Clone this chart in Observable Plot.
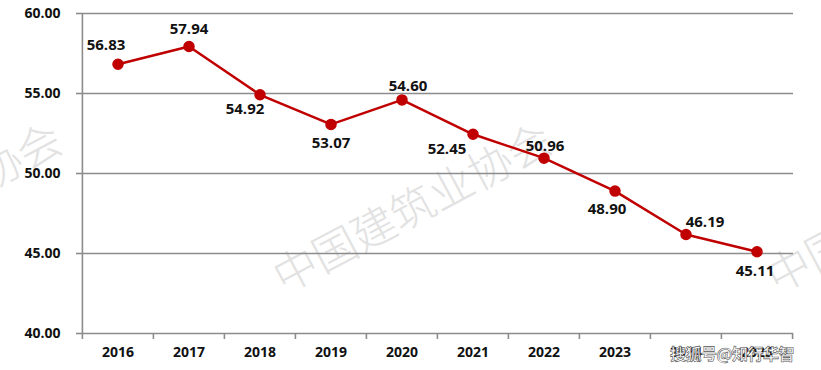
<!DOCTYPE html>
<html><head><meta charset="utf-8">
<script src="https://cdn.jsdelivr.net/npm/d3@7"></script>
<script src="https://cdn.jsdelivr.net/npm/@observablehq/plot@0.6"></script>
<style>
body{margin:0;background:#fff;font-family:"Open Sans",sans-serif}
#chart{position:relative;width:821px;height:370px;overflow:hidden}
#chart svg{position:absolute;left:0;top:0}
.wm2{position:absolute;left:670px;top:341px;font-family:"Noto Sans CJK SC",sans-serif;font-size:16px;font-weight:700;color:#fff;-webkit-text-stroke:0.6px #555;white-space:nowrap;letter-spacing:-0.5px}
</style>
</head><body><div id="chart"></div>
<script>
const years = ["2016","2017","2018","2019","2020","2021","2022","2023","2024","2025"];
const values = [56.83,57.94,54.92,53.07,54.60,52.45,50.96,48.90,46.19,45.11];
const yTicks = [40,45,50,55,60];
// label placement offsets (px) — styling only
const labelDx = [-12,0,-15,0,6,-26,1,-8,19,-2];
const labelDy = [-19,-17,14,19,-14,15,-12,18,-12,19];

const data = years.map((year,i)=>({year, value: values[i]}));
const W = 821, H = 370, ML = 81, MR = 28, MT = 13, MB = 37;
const bw = (W - ML - MR) / years.length;
const gridC = "#8c8c8c";
const red = "#C00000";

const labelMarks = data.map((d,i)=>Plot.text([d], {
  x:"year", y:"value", text: d=>d.value.toFixed(2),
  dx: labelDx[i], dy: labelDy[i],
  fontSize: 15, fontWeight: 700, fill: "#111"
}));

const plot = Plot.plot({
  width: W, height: H, marginLeft: ML, marginRight: MR, marginTop: MT, marginBottom: MB,
  style: {fontFamily: '"Open Sans", sans-serif', fontSize: "14px", fontWeight: 700, color: "#111", background: "transparent", overflow: "visible"},
  x: {type: "band", domain: years, padding: 0, label: null},
  y: {domain: [40, 60], label: null},
  marks: [
    Plot.ruleY(yTicks, {y: d=>d, stroke: gridC, strokeWidth: 1.6}),
    Plot.ruleX([years[0]], {x: d=>d, dx: -bw/2, y1: 40, y2: 60, stroke: gridC, strokeWidth: 1.6}),
    Plot.ruleX(years, {x: d=>d, dx: -bw/2, y1: 40, y2: 40 - 6/16, stroke: gridC, strokeWidth: 1.6}),
    Plot.ruleX([years[years.length-1]], {x: d=>d, dx: bw/2, y1: 40, y2: 40 - 6/16, stroke: gridC, strokeWidth: 1.6}),
    Plot.axisY({ticks: yTicks, tickFormat: d3.format(".2f"), tickSize: 5, tickPadding: 16, stroke: gridC, strokeWidth: 1.6, fontSize: 14, fontWeight: 700, fill: "#111"}),
    Plot.axisX({tickSize: 0, tickPadding: 14, fontSize: 14, fontWeight: 700, fill: "#111"}),
    Plot.line(data, {x: "year", y: "value", stroke: red, strokeWidth: 2.5}),
    Plot.dot(data, {x: "year", y: "value", r: 5, fill: red, stroke: red}),
    ...labelMarks
  ]
});
const host = document.getElementById("chart");
host.appendChild(plot);

// diagonal watermark (decoration)
const svg = d3.select(plot);
const wm = svg.insert("g", ":first-child").attr("fill", "#e2e2e2").attr("font-family", '"Noto Sans CJK SC", sans-serif').attr("font-weight", 300).attr("font-size", 44).attr("text-anchor", "middle");
[-490, 0, 493].forEach(off => {
  wm.append("text").attr("transform", `translate(${420+off},${222}) rotate(-28)`).text("中国建筑业协会");
});
const d2 = document.createElement("div");
d2.className = "wm2";
d2.textContent = "搜狐号@知行华智";
host.appendChild(d2);
</script>
</body></html>
